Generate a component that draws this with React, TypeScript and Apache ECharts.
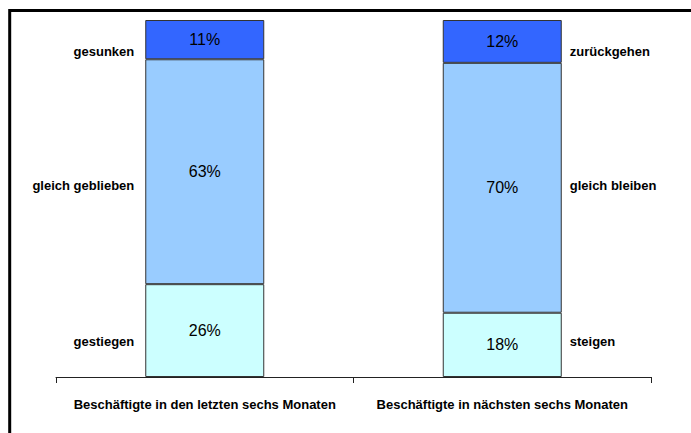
import React, { useEffect, useRef } from "react";
import * as echarts from "echarts";

// Employment survey: share of answers per question
const categories = [
  "Beschäftigte in den letzten sechs Monaten",
  "Beschäftigte in nächsten sechs Monaten",
];
const upValues = [26, 18];
const sameValues = [63, 70];
const downValues = [11, 12];

const leftLabels = ["gesunken", "gleich geblieben", "gestiegen"];
const rightLabels = ["zurückgehen", "gleich bleiben", "steigen"];

const FONT = "'Liberation Sans', Arial, Helvetica, sans-serif";
// vertical positions of the side captions (top to bottom)
const sideLabelY = [51, 185, 341];
const BAR_RATIO = 0.4;

export default function App() {
  const ref = useRef<HTMLDivElement>(null);

  useEffect(() => {
    if (!ref.current) return;
    const chart = echarts.init(ref.current, null, { renderer: "svg" });

    const segLabel = {
      show: true,
      position: "inside",
      formatter: "{c}%",
      color: "#000",
      fontSize: 16,
      fontFamily: FONT,
    };
    const segStyle = (color: string) => ({
      color,
      borderColor: "#333",
      borderWidth: 1,
    });

    chart.setOption({
      animation: false,
      backgroundColor: "#fff",
      grid: { left: 56, right: 40, top: 20, bottom: 56 },
      xAxis: {
        type: "category",
        data: categories,
        boundaryGap: true,
        axisLine: { lineStyle: { color: "#222", width: 1 } },
        axisTick: { show: true, alignWithLabel: false, length: 6, lineStyle: { color: "#222" } },
        axisLabel: {
          margin: 21,
          color: "#000",
          fontSize: 13,
          fontWeight: "bold",
          fontFamily: FONT,
          interval: 0,
        },
      },
      yAxis: { type: "value", min: 0, max: 100, show: false },
      series: [
        {
          type: "bar",
          stack: "total",
          barWidth: BAR_RATIO * 100 + "%",
          data: upValues,
          itemStyle: segStyle("#CCFFFF"),
          label: segLabel,
        },
        {
          type: "bar",
          stack: "total",
          data: sameValues,
          itemStyle: segStyle("#99CCFF"),
          label: segLabel,
        },
        {
          type: "bar",
          stack: "total",
          data: downValues,
          itemStyle: segStyle("#3366FF"),
          label: segLabel,
        },
      ],
    });

    // side captions placed next to the bars, using the axis scale
    const c0 = chart.convertToPixel({ xAxisIndex: 0 }, categories[0]) as number;
    const c1 = chart.convertToPixel({ xAxisIndex: 0 }, categories[1]) as number;
    const band = c1 - c0;
    const half = (band * BAR_RATIO) / 2;

    const textStyle = {
      fontSize: 13,
      fontWeight: "bold",
      fontFamily: FONT,
      fill: "#000",
      verticalAlign: "middle",
    };

    const graphics: any[] = [
      {
        type: "rect",
        shape: { x: 9.7, y: 10.5, width: 800, height: 600 },
        style: { fill: "none", stroke: "#000", lineWidth: 3 },
        silent: true,
      },
    ];
    leftLabels.forEach((t, i) => {
      graphics.push({
        type: "text",
        x: c0 - half - 11,
        y: sideLabelY[i],
        style: { ...textStyle, text: t, align: "right" },
      });
    });
    rightLabels.forEach((t, i) => {
      graphics.push({
        type: "text",
        x: c1 + half + 8,
        y: sideLabelY[i],
        style: { ...textStyle, text: t, align: "left" },
      });
    });
    chart.setOption({ graphic: graphics });

    return () => chart.dispose();
  }, []);

  return (
    <div
      ref={ref}
      style={{ position: "absolute", left: 0, top: 0, width: 691, height: 433 }}
    />
  );
}
